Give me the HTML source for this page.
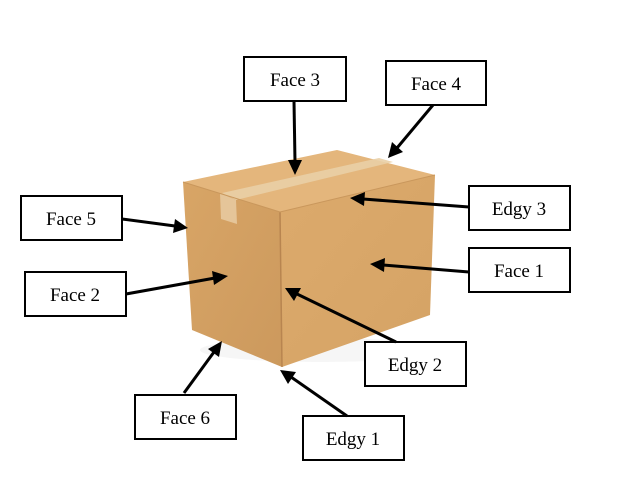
<!DOCTYPE html>
<html><head><meta charset="utf-8"><style>
html,body{margin:0;padding:0;background:#fff;}
svg{display:block;}
text{font-family:"Liberation Serif",serif;font-size:19px;fill:#000;}
</style></head><body>
<svg width="635" height="495" viewBox="0 0 635 495" xmlns="http://www.w3.org/2000/svg">
<defs>
<linearGradient id="gf" x1="0" y1="0" x2="1" y2="1"><stop offset="0" stop-color="#dcaa6c"/><stop offset="1" stop-color="#d5a365"/></linearGradient>
<linearGradient id="gl" x1="0" y1="0" x2="1" y2="1"><stop offset="0" stop-color="#d8a566"/><stop offset="1" stop-color="#cc995d"/></linearGradient>
</defs>
<ellipse cx="320" cy="350" rx="120" ry="12" fill="#f6f6f6"/>
<polygon points="183,182 280,212 282,367 192,330" fill="url(#gl)"/>
<polygon points="280,212 435,175 430,315 282,367" fill="url(#gf)"/>
<polygon points="183,182 337,150 435,175 280,212" fill="#e4b67c"/>
<polygon points="222,193 379,158 393,162 236,200" fill="#e9cfa6" opacity="0.9"/>
<polygon points="220,193 236,200 237,224 221,219" fill="#e7c99e" opacity="0.9"/>
<line x1="280" y1="212" x2="282" y2="367" stroke="#b88550" stroke-width="1.5"/>
<line x1="183" y1="182" x2="280" y2="212" stroke="#c9975c" stroke-width="1"/>
<line x1="280" y1="212" x2="435" y2="175" stroke="#c9975c" stroke-width="1"/>

<g stroke="#000" stroke-width="2" fill="#fff">
<rect x="244" y="57" width="102" height="44"/>
<rect x="386" y="61" width="100" height="44"/>
<rect x="469" y="186" width="101" height="44"/>
<rect x="21" y="196" width="101" height="44"/>
<rect x="469" y="248" width="101" height="44"/>
<rect x="25" y="272" width="101" height="44"/>
<rect x="365" y="342" width="101" height="44"/>
<rect x="135" y="395" width="101" height="44"/>
<rect x="303" y="416" width="101" height="44"/>
</g>
<g text-anchor="middle">
<text x="295" y="86">Face 3</text>
<text x="436" y="90">Face 4</text>
<text x="519" y="215">Edgy 3</text>
<text x="71" y="225">Face 5</text>
<text x="519" y="277">Face 1</text>
<text x="75" y="301">Face 2</text>
<text x="415" y="371">Edgy 2</text>
<text x="185" y="424">Face 6</text>
<text x="353" y="445">Edgy 1</text>
</g>

<g stroke="#000" stroke-width="3">
<line x1="294" y1="101" x2="295" y2="162"/>
<line x1="433" y1="105" x2="397" y2="148"/>
<line x1="469" y1="207" x2="363" y2="199"/>
<line x1="122" y1="219" x2="175" y2="226"/>
<line x1="469" y1="272" x2="383" y2="265"/>
<line x1="126" y1="294" x2="215" y2="278"/>
<line x1="396" y1="342" x2="297" y2="294"/>
<line x1="184" y1="393" x2="214" y2="352"/>
<line x1="347" y1="416" x2="291" y2="377"/>
</g>
<g fill="#000">
<polygon points="295,175 288,160 302,160"/>
<polygon points="388,158 392,142 403,152"/>
<polygon points="350,198 365,192 364,206"/>
<polygon points="188,228 173,233 175,219"/>
<polygon points="370,264 385,258 384,272"/>
<polygon points="228,276 214,285 212,271"/>
<polygon points="285,288 301,288 294,301"/>
<polygon points="222,341 219,357 208,349"/>
<polygon points="280,370 296,372 288,384"/>
</g>
</svg>
</body></html>
